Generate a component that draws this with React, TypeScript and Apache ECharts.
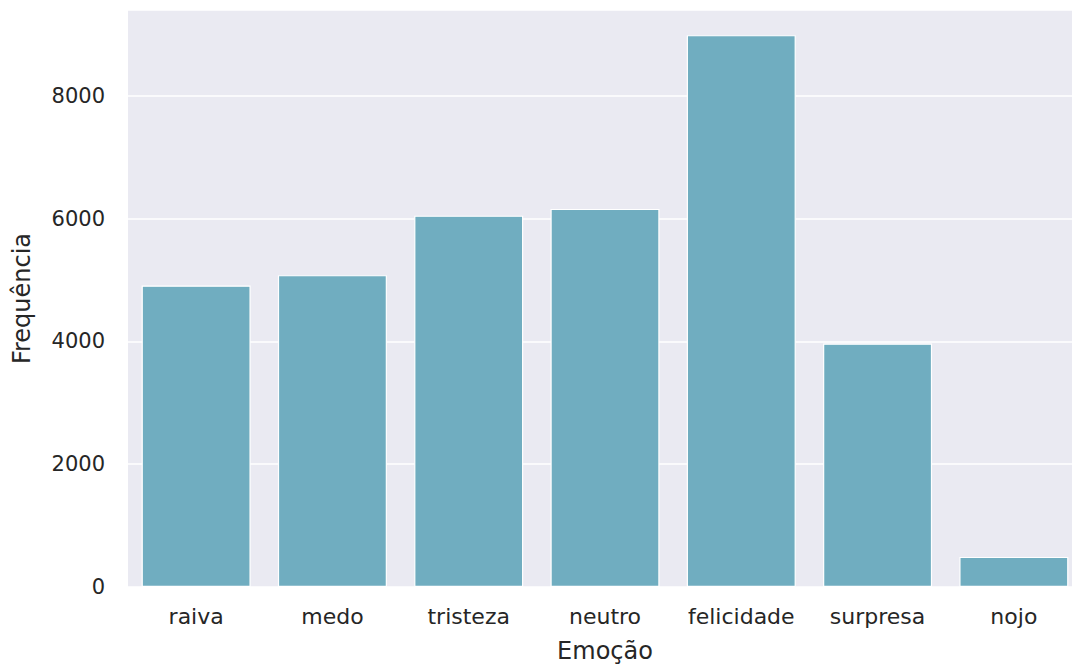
import React, { useEffect, useRef } from "react";
import * as echarts from "echarts";

const categories = ["raiva", "medo", "tristeza", "neutro", "felicidade", "surpresa", "nojo"];
const frequencies = [4910, 5080, 6050, 6160, 8990, 3965, 490];
const yTicks = [0, 2000, 4000, 6000, 8000];

export default function App() {
  const ref = useRef<HTMLDivElement>(null);
  useEffect(() => {
    if (!ref.current) return;
    const chart = echarts.init(ref.current, undefined, { renderer: "svg" });
    const font = "DejaVu Sans";
    chart.setOption({
      animation: false,
      backgroundColor: "#ffffff",
      grid: {
        left: 128,
        right: 0,
        top: 10,
        bottom: 80,
        containLabel: false,
        show: true,
        backgroundColor: "#EAEAF2",
        borderWidth: 0,
      },
      xAxis: {
        type: "category",
        data: categories,
        name: "Emoção",
        nameLocation: "middle",
        nameGap: 52,
        nameTextStyle: { fontFamily: font, fontSize: 24, color: "#262626" },
        axisLine: { show: false },
        axisTick: { show: false },
        axisLabel: {
          fontFamily: font,
          fontSize: 22,
          color: "#262626",
          margin: 18,
          interval: 0,
          hideOverlap: false,
        },
        splitLine: { show: false },
      },
      yAxis: {
        type: "value",
        min: 0,
        max: 9400,
        interval: 2000,
        name: "Frequência",
        nameLocation: "middle",
        nameGap: 94,
        nameTextStyle: { fontFamily: font, fontSize: 24, color: "#262626" },
        axisLine: { show: false },
        axisTick: { show: false },
        axisLabel: {
          fontFamily: font,
          fontSize: 21,
          color: "#262626",
          margin: 23,
          formatter: (v: number) => (yTicks.includes(v) ? String(v) : ""),
        },
        splitLine: { show: true, lineStyle: { color: "#ffffff", width: 1.5 } },
      },
      series: [
        {
          type: "bar",
          data: frequencies,
          barWidth: "80%",
          itemStyle: { color: "#70ADC0", borderColor: "#ffffff", borderWidth: 1.2 },
        },
      ],
    });
    return () => chart.dispose();
  }, []);
  return (
    <div
      ref={ref}
      style={{ position: "fixed", left: 0, top: 0, width: 1082, height: 668 }}
    />
  );
}
